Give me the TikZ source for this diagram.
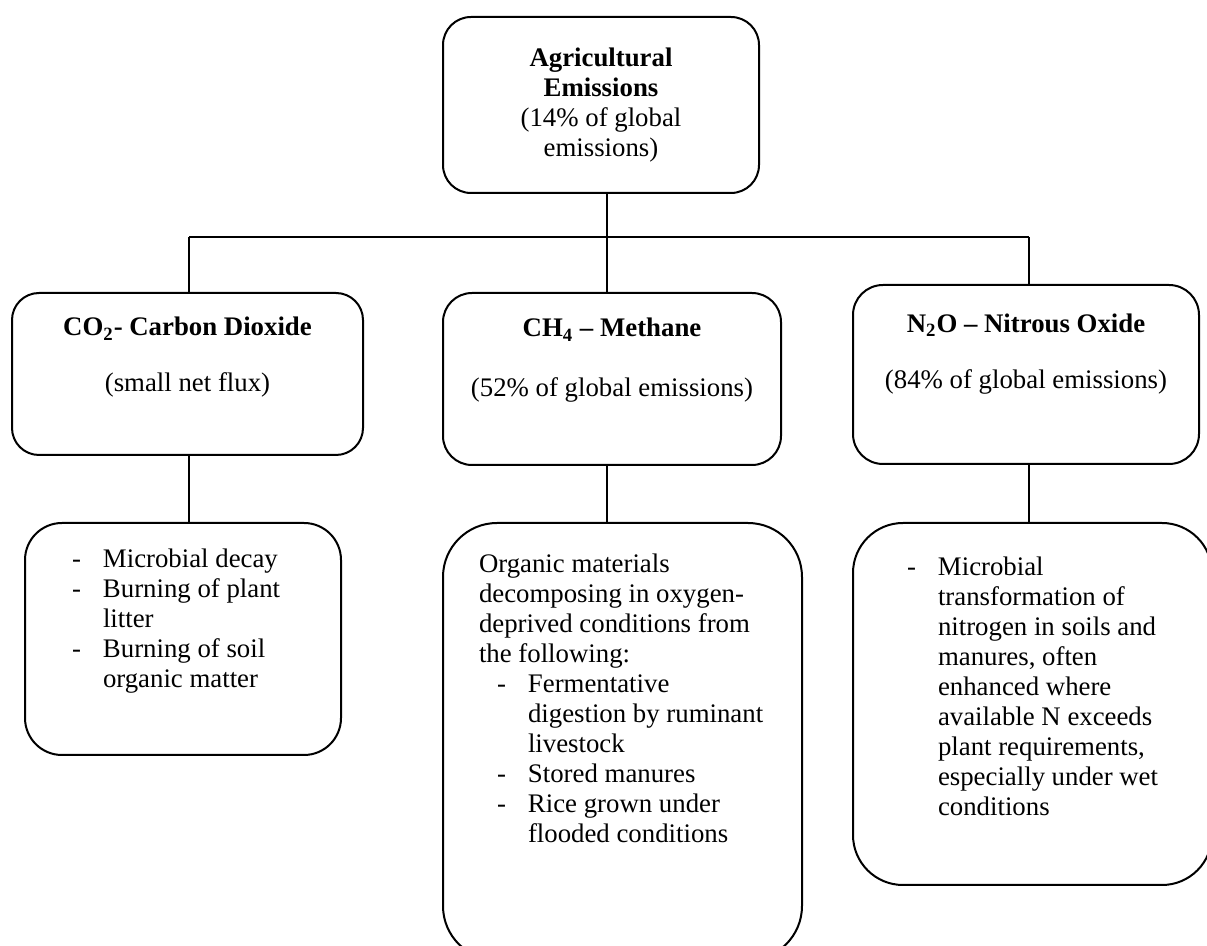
\documentclass[tikz,border=0pt]{standalone}
\usepackage{fontspec}
\setmainfont{Liberation Serif}

\newcommand{\srctext}[3]{\parbox[c][#2][t]{#1}{#3}}
\newcommand{\dashit}{\makebox[15.5pt][l]{-}}
\newcommand{\hangit}{\hspace*{15.5pt}}

\begin{document}
\begin{tikzpicture}[x=0.5pt,y=-0.5pt]
                \tikzset{box/.style={draw, line width=1pt, rectangle, inner sep=0pt,
                  font=\fontsize{13.4}{15}\selectfont}}
                \tikzset{headbox/.style={box, align=center}}
                \useasboundingbox (0,0) rectangle (1207,946);
                % top of the tree
                \node[headbox, rounded corners=14pt, minimum width=158pt, minimum height=88pt]
                  (top) at (601,105) {\textbf{Agricultural}\\\textbf{Emissions}\\(14\% of global\\emissions)};
                % the three gases
                \node[headbox, rounded corners=13.5pt, minimum width=175.5pt, minimum height=81pt]
                  (co2) at (187.5,374) {\textbf{CO\textsubscript{2}- Carbon Dioxide}\\[13pt](small net flux)\\\strut};
                \node[headbox, rounded corners=14.5pt, minimum width=169pt, minimum height=86pt]
                  (ch4) at (612,379) {\textbf{CH\textsubscript{4} – Methane}\\[15pt](52\% of global emissions)\\[2pt]\strut};
                \node[headbox, rounded corners=15pt, minimum width=173pt, minimum height=89.5pt]
                  (n2o) at (1026,374.5) {\textbf{N\textsubscript{2}O – Nitrous Oxide}\\[13pt](84\% of global emissions)\\[4pt]\strut};
                % sources
                \node[box, rounded corners=18.5pt, inner xsep=23.5pt, inner ysep=13pt]
                  (co2src) at (183,639) {\srctext{111pt}{90pt}{%
                    \dashit Microbial decay\\
                    \dashit Burning of plant\\
                    \hangit litter\\
                    \dashit Burning of soil\\
                    \hangit organic matter}};
                \node[box, rounded corners=27pt, inner xsep=18pt, inner ysep=15.5pt]
                  (ch4src) at (622.5,741.5) {\srctext{143.5pt}{187.5pt}{%
                    Organic materials\\
                    decomposing in oxygen-\\
                    deprived conditions from\\
                    the following:\\
                    \hspace*{9pt}\dashit Fermentative\\
                    \hspace*{9pt}\hangit digestion by ruminant\\
                    \hspace*{9pt}\hangit livestock\\
                    \hspace*{9pt}\dashit Stored manures\\
                    \hspace*{9pt}\dashit Rice grown under\\
                    \hspace*{9pt}\hangit flooded conditions}};
                \node[box, rounded corners=25pt, inner xsep=27pt, inner ysep=17pt]
                  (n2osrc) at (1032.5,704) {\srctext{125.5pt}{147pt}{%
                    \dashit Microbial\\
                    \hangit transformation of\\
                    \hangit nitrogen in soils and\\
                    \hangit manures, often\\
                    \hangit enhanced where\\
                    \hangit available N exceeds\\
                    \hangit plant requirements,\\
                    \hangit especially under wet\\
                    \hangit conditions}};
                % connectors
                \coordinate (jl) at (189,237);
                \coordinate (jm) at (607,237);
                \coordinate (jr) at (1029,237);
                \draw[line width=1pt] (top.south -| jm) -- (jm);
                \draw[line width=1pt] (jl) -- (jr);
                \draw[line width=1pt] (jl) -- (jl |- co2.north);
                \draw[line width=1pt] (jm) -- (jm |- ch4.north);
                \draw[line width=1pt] (jr) -- (jr |- n2o.north);
                \draw[line width=1pt] (co2.south -| jl) -- (co2src.north -| jl);
                \draw[line width=1pt] (ch4.south -| jm) -- (ch4src.north -| jm);
                \draw[line width=1pt] (n2o.south -| jr) -- (n2osrc.north -| jr);
            \end{tikzpicture}
\end{document}
